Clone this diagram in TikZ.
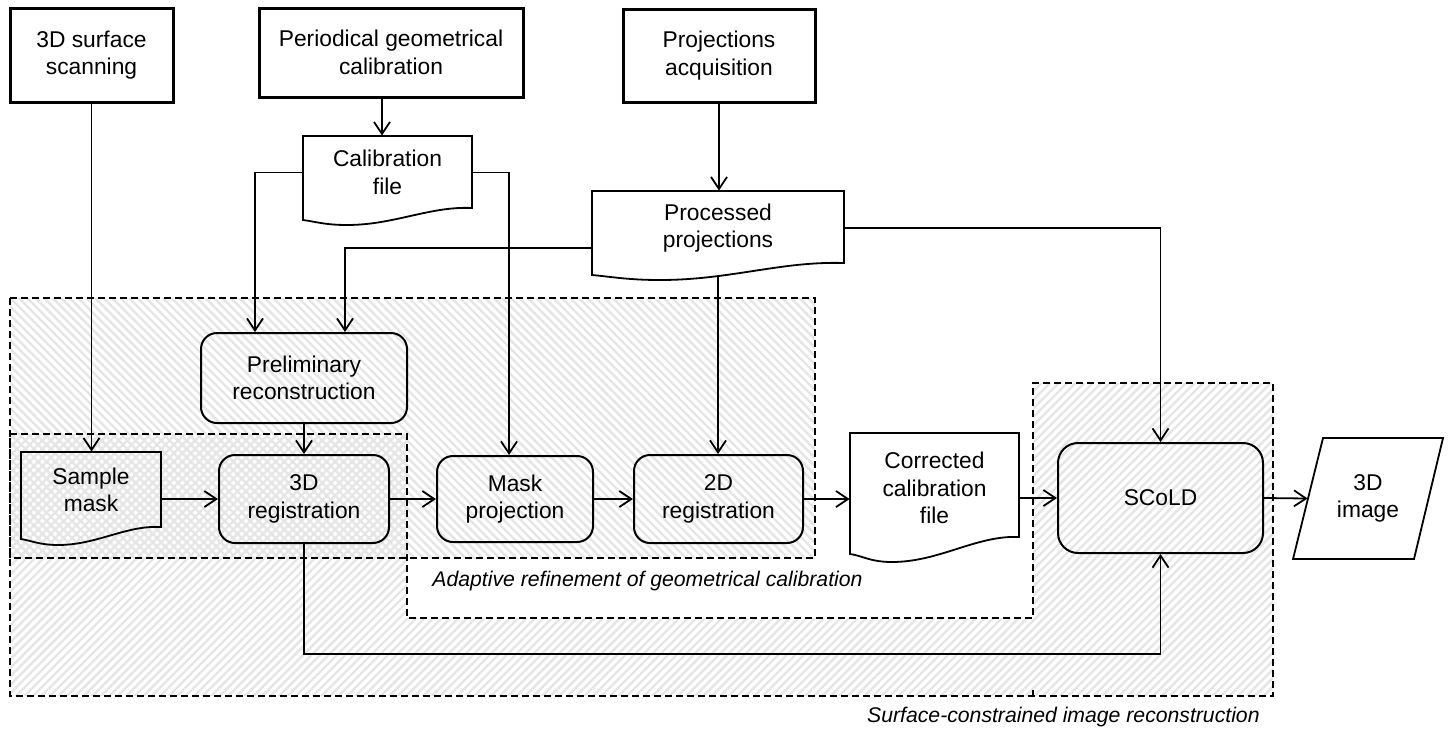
\documentclass[tikz,border=0pt]{standalone}
\usepackage{fontspec}
\setmainfont{Liberation Sans}
\usetikzlibrary{arrows.meta,patterns.meta,calc}
\newcommand\docoutline[7]{% x1 x2 ytop yR yL yt xt
  \draw[docline] (#1,#3) -- (#2,#3) -- (#2,#4)
    .. controls ({#2-0.25*(#2-#1)},{#4-2}) and ({#7+0.28*(#2-#1)},#6) .. (#7,#6)
    .. controls ({#7-0.13*(#2-#1)},#6) and ({#1+0.07*(#2-#1)},{#5+1.5}) .. (#1,#5) -- cycle;}
\begin{document}
\begin{tikzpicture}[x=0.5pt,y=-0.5pt,
  every node/.style={font=\fontsize{11.4}{13.8}\selectfont, align=center, inner sep=0pt},
  lbl/.style={font=\fontsize{10.6}{13}\selectfont\itshape},
  topbox/.style={draw, line width=1.5pt},
  procbox/.style={draw, line width=1pt, rounded corners=8pt},
  doctext/.style={},
  docline/.style={line width=0.9pt},
  arr/.style={line width=0.9pt, -{Straight Barb[length=6pt,width=8pt]}},
  region/.style={dash pattern=on 3.5pt off 2pt, line width=1pt},
  hatchA/.style={pattern={Lines[angle=-45,distance=3pt,line width=1.2pt]}, pattern color=black!10},
  hatchB/.style={pattern={Lines[angle=45,distance=3pt,line width=1.2pt]}, pattern color=black!10}]
\useasboundingbox (0,0) rectangle (1450,729);
% regions
\fill[hatchA] (10,298) rectangle (815,558);
\fill[hatchB] (10,434) -- (407,434) -- (407,618) -- (1033,618) -- (1033,383) -- (1273,383) -- (1273,696) -- (10,696) -- cycle;
\draw[region] (10,298) rectangle (815,558);
\draw[region] (10,434) -- (407,434) -- (407,618) -- (1033,618) -- (1033,383) -- (1273,383) -- (1273,696) -- (10,696) -- cycle;
\draw[region] (1033,690) -- (1033,696);
% nodes
\node[topbox, minimum width=81.5pt, minimum height=47pt] (scan) at (91.5,55) {3D surface\\scanning};
\node[topbox, minimum width=132pt, minimum height=44.5pt] (periodic) at (391,52.5) {Periodical geometrical\\calibration};
\node[topbox, minimum width=96pt, minimum height=46.5pt] (projacq) at (719,55.5) {Projections\\acquisition};
\node[doctext, minimum width=84.5pt, minimum height=36.5pt] (calib) at (387.5,172.5) {Calibration\\file};
\node[doctext, minimum width=126pt, minimum height=37pt] (proc) at (718,228) {Processed\\projections};
\node[procbox, minimum width=103pt, minimum height=45pt] (prelim) at (304,378) {Preliminary\\reconstruction};
\node[doctext, minimum width=70pt, minimum height=38pt] (sample) at (91,490) {Sample\\mask};
\node[procbox, minimum width=85pt, minimum height=44pt] (reg3d) at (304,499) {3D\\registration};
\node[procbox, minimum width=78pt, minimum height=43pt] (maskp) at (515,499) {Mask\\projection};
\node[procbox, minimum width=84.5pt, minimum height=44pt] (reg2d) at (718.5,499) {2D\\registration};
\node[doctext, minimum width=84.5pt, minimum height=55pt] (corr) at (934.5,488) {Corrected\\calibration\\file};
\node[procbox, rounded corners=10pt, minimum width=102.5pt, minimum height=55pt] (scold) at (1160.5,498) {SCoLD};
\node[minimum width=60pt, minimum height=60pt] (img) at (1368,498.5) {3D\\image};
% shapes drawn directly
\docoutline{303}{472}{136}{208}{220}{225}{347}
\docoutline{592}{844}{191}{263}{275}{280}{660}
\docoutline{21}{161}{452}{527}{539}{545}{58}
\docoutline{850}{1019}{433}{537}{554}{562}{892}
\draw[docline] (1323,438) -- (1443,438) -- (1414,559) -- (1293,559) -- cycle;
% labels
\node[lbl, anchor=west] (lblA) at (432,581) {Adaptive refinement of geometrical calibration};
\node[lbl, anchor=east] (lblB) at (1260,717) {Surface-constrained image reconstruction};
% connectors
\coordinate (p1) at ([xshift=-4.5pt]periodic.south);
\coordinate (procb) at ([yshift=-6pt]proc.south);
\draw[arr] (scan.south) -- (scan.south |- sample.north);
\draw[arr] (p1) -- (p1 |- calib.north);
\draw[arr] (projacq.south) -- (projacq.south |- proc.north);
\draw[arr] (calib.west) -| ([xshift=-24.5pt]prelim.north);
\draw[arr] (calib.east) -| ([xshift=-3pt]maskp.north);
\draw[arr] ([yshift=-10pt]proc.west) -| ([xshift=20.5pt]prelim.north);
\draw[arr] (procb) -- (procb |- reg2d.north);
\draw[arr] (proc.east) -| (scold.north);
\draw[arr] (prelim.south) -- (reg3d.north);
\draw[arr] ([yshift=-4.5pt]sample.east) -- (reg3d.west);
\draw[arr] (reg3d.east) -- (maskp.west);
\draw[arr] (maskp.east) -- (reg2d.west);
\draw[arr] (reg2d.east) -- ([yshift=-5.5pt]corr.west);
\draw[arr] ([yshift=-5pt]corr.east) -- (scold.west);
\draw[arr] (scold.east) -- (img.west);
\draw[arr] (reg3d.south) -- ++(0,110) -| (scold.south);
\end{tikzpicture}
\end{document}
